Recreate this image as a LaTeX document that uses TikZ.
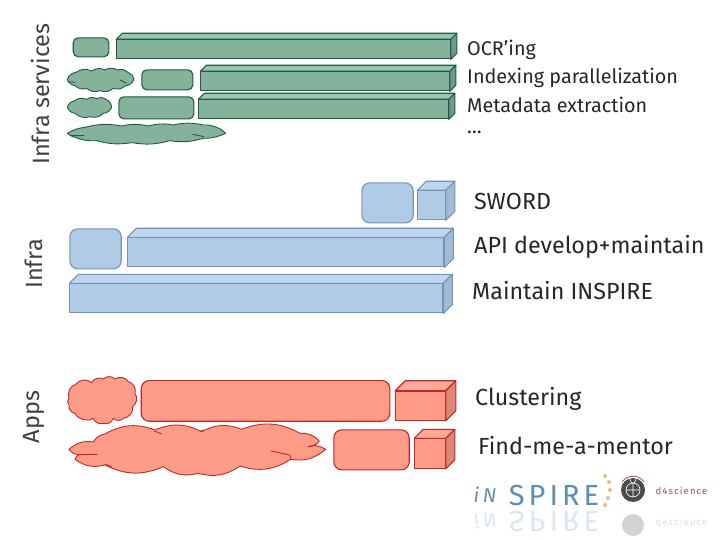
\documentclass[tikz,border=0pt]{standalone}
\usepackage{fontspec}
\setmainfont{Fira Sans}
\usetikzlibrary{positioning, calc}

\definecolor{greenFill}{HTML}{84B29B}
\definecolor{greenTop}{HTML}{9CC5AE}
\definecolor{greenSide}{HTML}{6F9C86}
\definecolor{greenLine}{HTML}{1F5C46}
\definecolor{blueFill}{HTML}{B0CBE5}
\definecolor{blueTop}{HTML}{C0D6EE}
\definecolor{blueSide}{HTML}{A2BAD4}
\definecolor{blueLine}{HTML}{7394B8}
\definecolor{redFill}{HTML}{FF9C88}
\definecolor{redTop}{HTML}{FFA898}
\definecolor{redSide}{HTML}{DB8877}
\definecolor{redLine}{HTML}{C02828}
\definecolor{logoBlue}{HTML}{5A8DB8}
\definecolor{logoPlum}{HTML}{9A4A78}

% top and side faces of a front rectangle node
\newcommand{\boxfaces}[3]{%
  \draw[#3Line, line width=1.1pt, fill=#3Top, line join=round]
    (#1.north west) -- ++(#2,-#2) -- ([shift={(#2,-#2)}]#1.north east) -- (#1.north east) -- cycle;
  \draw[#3Line, line width=1.1pt, fill=#3Side, line join=round]
    (#1.north east) -- ++(#2,-#2) -- ([shift={(#2,-#2)}]#1.south east) -- (#1.south east) -- cycle;
}

\begin{document}
\begin{tikzpicture}[x=1pt, y=-1pt,
    front/.style 2 args={rectangle, anchor=north west, inner sep=0pt, line width=1.1pt,
        draw=#2Line, fill=#2Fill, minimum width=#1},
    rbox/.style 2 args={rectangle, rounded corners=5pt, anchor=north west, inner sep=0pt,
        line width=1.1pt, draw=#2Line, fill=#2Fill, minimum width=#1},
    blob/.style={draw=#1Line, fill=#1Fill, line width=.9pt, line join=round},
    crease/.style={draw=#1Line, line width=.9pt},
    side/.style={rotate=90, anchor=center, font=\fontsize{23.5}{26}\selectfont, text=black!75},
    lbl/.style={anchor=west, inner sep=0pt, font=\fontsize{19.8}{22}\selectfont, text=black!85},
    lblbig/.style={anchor=west, inner sep=0pt, font=\fontsize{23.3}{26}\selectfont, text=black!85},
    logotext/.style={inner sep=0pt, text=logoBlue}
]
\useasboundingbox (0,0) rectangle (720,540);

%% Infra services (green)
\node[rbox={35.6pt}{green}, minimum height=19pt] (ga) at (72.7,37.3) {};
\node[front={333.4pt}{green}, minimum height=19pt] (gb) at (116.3,39.3) {};
\boxfaces{gb}{6}{green}
\node[rbox={51pt}{green}, minimum height=20pt] (gd) at (141.3,69.3) {};
\node[front={248.4pt}{green}, minimum height=19pt] (ge) at (200.3,71.3) {};
\boxfaces{ge}{6}{green}
\node[rbox={75pt}{green}, minimum height=22pt] (gg) at (118.3,96.3) {};
\node[front={249.4pt}{green}, minimum height=19pt] (gh) at (198.3,99.3) {};
\boxfaces{gh}{6}{green}

% green clouds
\begin{scope}[shift={(60,20)}, x=.3333pt, y=-.3333pt, every to/.style={bend left=30}]
\draw[blob=green] (22,178) to (48,157) to (95,153) to (135,150) to (172,150) to (205,158)
    to (222,178) to (195,198) to (160,205) to (120,212) to (80,205) to (45,197) to (22,178);
\draw[crease=green] (22,185) -- (45,187) (180,180) -- (200,190);
\draw[blob=green] (22,262) to (42,243) to (80,238) to (110,236) to (138,238) to (155,262)
    to (130,280) to (90,290) to (45,280) to (22,262);
\draw[blob=green, every to/.style={bend left=12}] (22,340) to (75,322) to (185,318) to (265,318)
    to (340,315) to (430,315) to (470,322) to (497,340) to (430,355) to (330,362)
    to (215,368) to (110,362) to (45,352) to (22,340);
\draw[crease=green] (30,347) -- (72,347) (398,343) -- (432,350);
\end{scope}

%% Infra (blue)
\node[rbox={51.4pt}{blue}, rounded corners=8pt, minimum height=40pt] (ba) at (361.3,182.3) {};
\node[front={27.4pt}{blue}, minimum height=29pt] (bb) at (417.3,190.3) {};
\boxfaces{bb}{9}{blue}
\node[rbox={51.4pt}{blue}, rounded corners=8pt, minimum height=40pt] (bc) at (69.3,228.3) {};
\node[front={316pt}{blue}, minimum height=29pt] (bd) at (127.3,237.3) {};
\boxfaces{bd}{9}{blue}
\node[front={373pt}{blue}, minimum height=29pt] (be) at (69.3,283.3) {};
\boxfaces{be}{9}{blue}

%% Apps (red)
\node[rbox={248.6pt}{red}, rounded corners=8pt, minimum height=40.7pt] (rb) at (140.7,380) {};
\node[front={49.4pt}{red}, minimum height=29pt] (rc) at (395.3,390.7) {};
\boxfaces{rc}{10}{red}
\node[rbox={75.4pt}{red}, rounded corners=8pt, minimum height=40pt] (re) at (333.3,429.3) {};
\node[front={30.4pt}{red}, minimum height=29.4pt] (rf) at (414.3,438.3) {};
\boxfaces{rf}{9}{red}

% red clouds
\begin{scope}[shift={(60,370)}, x=.3333pt, y=-.3333pt, every to/.style={bend left=45}]
\draw[blob=red] (27,85) to (48,42) to (95,38) to (130,27) to (165,27) to (205,35) to (225,70)
    to (218,110) to (190,145) to (160,145) to (130,160) to (100,145) to (45,130) to (27,105) to (27,85);
\draw[blob=red, every to/.style={bend left=25}] (100,216) to (135,192) to (285,180) to (425,185)
    to (545,178) to (720,190) to (778,213) to (745,230) to (797,238) to (692,268) to (540,288)
    to (415,310) to (310,290) to (135,285) to (45,268) to (58,254) to (27,238) to (100,216);
\draw[crease=red] (283,183) -- (305,192) (420,185) -- (432,180) (633,243) -- (690,255) -- (692,268)
    (135,283) -- (155,290) (745,230) -- (770,224) (58,254) -- (112,253);
\end{scope}

%% Side titles
\node[side] (tinfrasrv) at (40,94) {Infra services};
\node[side] (tinfra) at (34,264) {Infra};
\node[side] (tapps) at (34,417) {Apps};

%% Labels
\node[lbl] (locr) at (467,50) {OCR’ing};
\node[lbl] (lindex) at (467,78) {Indexing parallelization};
\node[lbl] (lmeta) at (467,105) {Metadata extraction};
\node[lbl] (ldots) at (467,132) {…};
\node[lblbig] (lsword) at (474,201) {SWORD};
\node[lblbig] (lapi) at (474,247) {API develop+maintain};
\node[lblbig] (lmaint) at (472,291) {Maintain INSPIRE};
\node[lblbig] (lclust) at (475,399) {Clustering};
\node[lblbig] (lfind) at (478,446) {Find-me-a-mentor};

%% Logo and its reflection
\node[logotext, font=\itshape\addfontfeature{LetterSpace=18}\fontsize{20}{24}\selectfont] (lgin) at (485,495) {iN};
\node[logotext, font=\addfontfeature{LetterSpace=14}\fontsize{29}{30}\selectfont] (lgspire) at (554,495.5) {SPIRE};
\node[logotext, opacity=.22, yscale=-1, font=\itshape\addfontfeature{LetterSpace=18}\fontsize{20}{24}\selectfont] (lginr) at (485,521) {iN};
\node[logotext, opacity=.22, yscale=-1, font=\addfontfeature{LetterSpace=14}\fontsize{29}{30}\selectfont] (lgspirer) at (554,521) {SPIRE};
\fill[black!70] (633,490) circle (12);
\draw[white, line width=.6pt] (633,490) circle (7) (626,490) -- (640,490) (633,483) -- (633,497)
    (633,483) arc (90:270:3.5 and 7) (633,483) arc (90:-90:3.5 and 7);
\draw[logoPlum, line width=.8pt] (622,482) arc (215:325:13.5);
\fill[black!70, opacity=.25] (633,525) circle (11);
\foreach \dotx/\doty in {605/476, 609/482, 610/490, 608/498, 605/505}
    \fill[orange!60!brown, opacity=.55] (\dotx,\doty) circle (2);
\node[inner sep=0pt, text=logoPlum, font=\addfontfeature{LetterSpace=12}\fontsize{9.5}{10}\selectfont] (lgd) at (681.5,491) {d4science};
\node[inner sep=0pt, text=logoPlum, opacity=.22, yscale=-1, font=\addfontfeature{LetterSpace=12}\fontsize{9.5}{10}\selectfont] (lgdr) at (681.5,524) {d4science};
\end{tikzpicture}
\end{document}
